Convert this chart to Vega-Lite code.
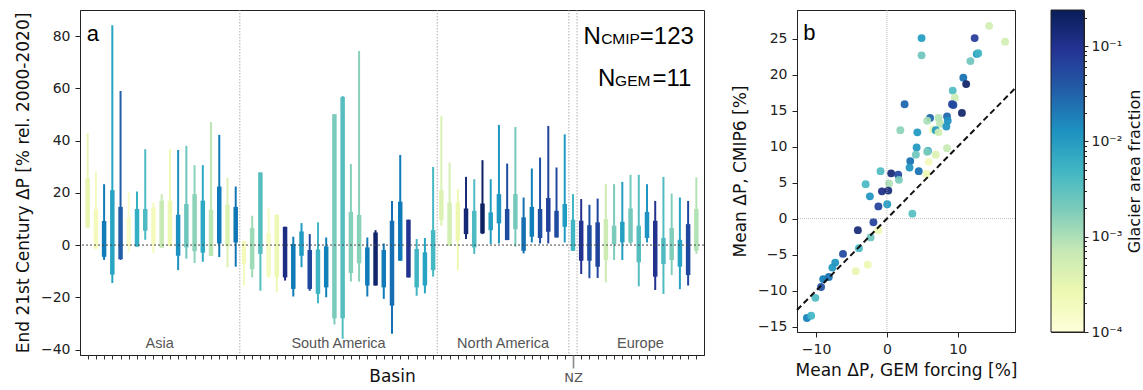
{
  "$schema": "https://vega.github.io/schema/vega-lite/v6.json",
  "padding": {"left": 13, "top": 9, "right": 0, "bottom": 0},
  "background": "white",
  "config": {
    "font": "DejaVu Sans",
    "view": {"stroke": "#222", "strokeWidth": 1},
    "axis": {"labelFontSize": 14, "titleFontSize": 17, "labelColor": "#222", "titleColor": "#111", "titleFontWeight": "normal", "tickColor": "#222", "domainColor": "#222", "grid": false, "tickSize": 5, "labelPadding": 5, "titlePadding": 8, "labelFont": "DejaVu Sans", "titleFont": "DejaVu Sans"}
  },
  "datasets": {
    "basins": [
      {"idx": 0, "lo": 6.5, "q1": 6.7, "q3": 25.6, "hi": 42.8, "frac": 0.0003},
      {"idx": 1, "lo": -1.5, "q1": -1.3, "q3": 13.8, "hi": 28, "frac": 0.0002},
      {"idx": 2, "lo": -5.7, "q1": -4.5, "q3": 9.2, "hi": 23.3, "frac": 0.02},
      {"idx": 3, "lo": -14.5, "q1": -11.3, "q3": 21, "hi": 84.2, "frac": 0.008},
      {"idx": 4, "lo": -5.7, "q1": -5.4, "q3": 14.6, "hi": 59, "frac": 0.035},
      {"idx": 5, "lo": -2.5, "q1": -0.5, "q3": 10.5, "hi": 20.5, "frac": 0.00015},
      {"idx": 6, "lo": -0.6, "q1": -0.6, "q3": 13.8, "hi": 20.5, "frac": 0.006},
      {"idx": 7, "lo": 2, "q1": 5.5, "q3": 13.8, "hi": 36.7, "frac": 0.004},
      {"idx": 8, "lo": -3, "q1": 0, "q3": 14.4, "hi": 16.3, "frac": 0.0002},
      {"idx": 9, "lo": -1, "q1": -1, "q3": 17, "hi": 19.5, "frac": 0.0007},
      {"idx": 10, "lo": -0.5, "q1": -0.5, "q3": 17, "hi": 36.7, "frac": 0.00025},
      {"idx": 11, "lo": -9.6, "q1": -4.1, "q3": 11.6, "hi": 36.4, "frac": 0.013},
      {"idx": 12, "lo": -5.2, "q1": -0.9, "q3": 15.7, "hi": 38, "frac": 0.0025},
      {"idx": 13, "lo": -6.9, "q1": -2.4, "q3": 19.5, "hi": 30.6, "frac": 0.0015},
      {"idx": 14, "lo": -6.4, "q1": -2.9, "q3": 17, "hi": 30.6, "frac": 0.007},
      {"idx": 15, "lo": -4.2, "q1": -4.2, "q3": 13.5, "hi": 47.1, "frac": 0.0008},
      {"idx": 16, "lo": -4.6, "q1": 0.6, "q3": 22.4, "hi": 42.2, "frac": 0.02},
      {"idx": 17, "lo": -8.5, "q1": -0.5, "q3": 15.5, "hi": 25.8, "frac": 0.0004},
      {"idx": 18, "lo": -8.3, "q1": 1, "q3": 14.6, "hi": 22.4, "frac": 0.022},
      {"idx": 19, "lo": -15.5, "q1": -7.3, "q3": 1.6, "hi": 1.6, "frac": 0.0002},
      {"idx": 20, "lo": -12.4, "q1": -9.2, "q3": 6.5, "hi": 11.2, "frac": 0.0012},
      {"idx": 21, "lo": -17.5, "q1": -3.4, "q3": 27.8, "hi": 27.8, "frac": 0.0035},
      {"idx": 22, "lo": -12.5, "q1": -12, "q3": 4.5, "hi": 14, "frac": 0.00018},
      {"idx": 23, "lo": -18, "q1": -12.4, "q3": 11.5, "hi": 11.8, "frac": 0.00025},
      {"idx": 24, "lo": -13.6, "q1": -12.4, "q3": 7, "hi": 7, "frac": 0.12},
      {"idx": 25, "lo": -19.7, "q1": -16.8, "q3": 0.4, "hi": 3.2, "frac": 0.02},
      {"idx": 26, "lo": -8.5, "q1": -4.1, "q3": 5.2, "hi": 8.4, "frac": 0.01},
      {"idx": 27, "lo": -17.5, "q1": -16.8, "q3": -1.9, "hi": 4.2, "frac": 0.06},
      {"idx": 28, "lo": -22.3, "q1": -18.7, "q3": -1.7, "hi": 8.7, "frac": 0.005},
      {"idx": 29, "lo": -20, "q1": -16.2, "q3": -0.5, "hi": 2.9, "frac": 0.018},
      {"idx": 30, "lo": -30.4, "q1": -28, "q3": 50.1, "hi": 50.1, "frac": 0.002},
      {"idx": 31, "lo": -35.9, "q1": -28, "q3": 56.7, "hi": 57.1, "frac": 0.0035},
      {"idx": 32, "lo": -14, "q1": -10.7, "q3": 12.7, "hi": 31, "frac": 0.0017},
      {"idx": 33, "lo": -14, "q1": -7, "q3": 11.5, "hi": 74.3, "frac": 0.0016},
      {"idx": 34, "lo": -19.7, "q1": -15.5, "q3": -0.9, "hi": 2.9, "frac": 0.02},
      {"idx": 35, "lo": -15.5, "q1": -15.5, "q3": 4.8, "hi": 5.7, "frac": 0.17},
      {"idx": 36, "lo": -20.6, "q1": -16.2, "q3": -1.9, "hi": 0.6, "frac": 0.02},
      {"idx": 37, "lo": -34, "q1": -23.2, "q3": 9.3, "hi": 16.9, "frac": 0.025},
      {"idx": 38, "lo": -6, "q1": -6, "q3": 16.6, "hi": 34.5, "frac": 0.02},
      {"idx": 39, "lo": -12.4, "q1": -12.4, "q3": 9.7, "hi": 9.7, "frac": 0.1},
      {"idx": 40, "lo": -19.4, "q1": -16.2, "q3": -1.5, "hi": 2.3, "frac": 0.005},
      {"idx": 41, "lo": -18.5, "q1": -15.5, "q3": -2.8, "hi": 2.7, "frac": 0.008},
      {"idx": 42, "lo": -12.1, "q1": -9.6, "q3": 5.7, "hi": 29.9, "frac": 0.0045},
      {"idx": 43, "lo": 7.4, "q1": 9.6, "q3": 21, "hi": 49.4, "frac": 0.0004},
      {"idx": 44, "lo": -0.3, "q1": -0.3, "q3": 16.3, "hi": 31.6, "frac": 0.0005},
      {"idx": 45, "lo": -9.6, "q1": 1.7, "q3": 16.3, "hi": 21.4, "frac": 0.00025},
      {"idx": 46, "lo": 2.3, "q1": 4.2, "q3": 14, "hi": 26.1, "frac": 0.15},
      {"idx": 47, "lo": -3.4, "q1": -0.9, "q3": 13.1, "hi": 25.2, "frac": 0.004},
      {"idx": 48, "lo": 4.2, "q1": 4.5, "q3": 15.9, "hi": 32.5, "frac": 0.2},
      {"idx": 49, "lo": 0.4, "q1": 5.7, "q3": 12.5, "hi": 25.2, "frac": 0.009},
      {"idx": 50, "lo": 0.6, "q1": 8.3, "q3": 19.5, "hi": 46, "frac": 0.011},
      {"idx": 51, "lo": 1.9, "q1": 1.9, "q3": 13.8, "hi": 31.2, "frac": 0.055},
      {"idx": 52, "lo": -0.6, "q1": 6.1, "q3": 19.5, "hi": 45.2, "frac": 0.0022},
      {"idx": 53, "lo": -3.2, "q1": -2.2, "q3": 10.6, "hi": 18.2, "frac": 0.025},
      {"idx": 54, "lo": 1, "q1": 3.2, "q3": 14.6, "hi": 29.3, "frac": 0.018},
      {"idx": 55, "lo": 0.6, "q1": 2.7, "q3": 13.8, "hi": 33.5, "frac": 0.05},
      {"idx": 56, "lo": 0.6, "q1": 5.1, "q3": 18, "hi": 45.6, "frac": 0.07},
      {"idx": 57, "lo": 2.9, "q1": 2.9, "q3": 13.1, "hi": 29.7, "frac": 0.055},
      {"idx": 58, "lo": 1, "q1": 7, "q3": 15.7, "hi": 42.4, "frac": 0.01},
      {"idx": 59, "lo": -2.2, "q1": -2.2, "q3": 9.7, "hi": 19.5, "frac": 0.005},
      {"idx": 60, "lo": -11.1, "q1": -6, "q3": 9.3, "hi": 17.6, "frac": 0.1},
      {"idx": 61, "lo": -12.7, "q1": -6, "q3": 7.6, "hi": 15.4, "frac": 0.05},
      {"idx": 62, "lo": -12.6, "q1": -8.3, "q3": 8.7, "hi": 17.8, "frac": 0.065},
      {"idx": 63, "lo": -14.3, "q1": -5.7, "q3": 9.9, "hi": 23.3, "frac": 0.0006},
      {"idx": 64, "lo": -5.7, "q1": 0.4, "q3": 7.4, "hi": 23.3, "frac": 0.002},
      {"idx": 65, "lo": -5.7, "q1": 1, "q3": 8.9, "hi": 24.2, "frac": 0.009},
      {"idx": 66, "lo": 0.4, "q1": 1, "q3": 14, "hi": 26.9, "frac": 0.0022},
      {"idx": 67, "lo": -15.8, "q1": -6.6, "q3": 7.4, "hi": 26.9, "frac": 0.0035},
      {"idx": 68, "lo": 1, "q1": 2.7, "q3": 12.7, "hi": 23.3, "frac": 0.012},
      {"idx": 69, "lo": -17.2, "q1": -12.1, "q3": 9.3, "hi": 16.9, "frac": 0.1},
      {"idx": 70, "lo": -18.7, "q1": -7.3, "q3": 2.7, "hi": 26.1, "frac": 0.004},
      {"idx": 71, "lo": -11.5, "q1": -5.7, "q3": 6.5, "hi": 19.7, "frac": 0.0018},
      {"idx": 72, "lo": -16.9, "q1": -8.3, "q3": 2, "hi": 18.2, "frac": 0.008},
      {"idx": 73, "lo": -15.5, "q1": -11.5, "q3": 8, "hi": 16.9, "frac": 0.06},
      {"idx": 74, "lo": -3.4, "q1": -2.2, "q3": 13.8, "hi": 25.9, "frac": 0.0009}
    ],
    "scatter": [
      {"gem": 14.45, "cmip": 26.8, "frac": 0.0005},
      {"gem": 16.7, "cmip": 24.6, "frac": 0.0005},
      {"gem": 12.4, "cmip": 25.1, "frac": 0.08},
      {"gem": 4.9, "cmip": 25.1, "frac": 0.01},
      {"gem": 4.9, "cmip": 22.7, "frac": 0.0025},
      {"gem": 12.7, "cmip": 22.9, "frac": 0.012},
      {"gem": 12.9, "cmip": 23.0, "frac": 0.005},
      {"gem": 11.8, "cmip": 21.9, "frac": 0.0025},
      {"gem": 10.8, "cmip": 19.6, "frac": 0.025},
      {"gem": 11.2, "cmip": 18.7, "frac": 0.2},
      {"gem": 9.3, "cmip": 17.8, "frac": 0.004},
      {"gem": 9.6, "cmip": 16.8, "frac": 0.0006},
      {"gem": 9.2, "cmip": 15.9, "frac": 0.07},
      {"gem": 9.4, "cmip": 15.8, "frac": 0.06},
      {"gem": 10.6, "cmip": 14.7, "frac": 0.18},
      {"gem": 2.5, "cmip": 15.9, "frac": 0.03},
      {"gem": 6.1, "cmip": 14.0, "frac": 0.03},
      {"gem": 7.3, "cmip": 14.0, "frac": 0.0009},
      {"gem": 8.5, "cmip": 14.2, "frac": 0.03},
      {"gem": 8.6, "cmip": 13.6, "frac": 0.013},
      {"gem": 5.7, "cmip": 13.6, "frac": 0.001},
      {"gem": 7.5, "cmip": 13.2, "frac": 0.0008},
      {"gem": 6.5, "cmip": 12.4, "frac": 0.00025},
      {"gem": 6.9, "cmip": 12.3, "frac": 0.01},
      {"gem": 7.3, "cmip": 12.0, "frac": 0.0005},
      {"gem": 8.4, "cmip": 12.8, "frac": 0.012},
      {"gem": 1.9, "cmip": 12.3, "frac": 0.0015},
      {"gem": 4.3, "cmip": 12.0, "frac": 0.011},
      {"gem": 4.2, "cmip": 9.9, "frac": 0.011},
      {"gem": 4.1, "cmip": 8.9, "frac": 0.0025},
      {"gem": 5.8, "cmip": 9.4, "frac": 0.009},
      {"gem": 5.7, "cmip": 9.3, "frac": 0.002},
      {"gem": 6.9, "cmip": 8.9, "frac": 0.0004},
      {"gem": 8.5, "cmip": 9.8, "frac": 0.0007},
      {"gem": 5.9, "cmip": 7.9, "frac": 0.0002},
      {"gem": 3.3, "cmip": 8.0, "frac": 0.025},
      {"gem": 3.2, "cmip": 7.1, "frac": 0.012},
      {"gem": 4.5, "cmip": 6.6, "frac": 0.025},
      {"gem": 5.6, "cmip": 6.2, "frac": 0.00025},
      {"gem": -0.9, "cmip": 6.6, "frac": 0.004},
      {"gem": 0.6, "cmip": 6.3, "frac": 0.15},
      {"gem": 1.6, "cmip": 6.1, "frac": 0.06},
      {"gem": 1.7, "cmip": 5.4, "frac": 0.002},
      {"gem": 0.3, "cmip": 4.9, "frac": 0.001},
      {"gem": -3.0, "cmip": 4.8, "frac": 0.0045},
      {"gem": -0.7, "cmip": 3.8, "frac": 0.12},
      {"gem": 0.2, "cmip": 3.9, "frac": 0.13},
      {"gem": -2.4, "cmip": 3.1, "frac": 0.012},
      {"gem": 0.05, "cmip": 2.0, "frac": 0.01},
      {"gem": -1.2, "cmip": 1.7, "frac": 0.07},
      {"gem": 3.6, "cmip": 0.7, "frac": 0.0035},
      {"gem": -1.9, "cmip": -0.5, "frac": 0.07},
      {"gem": -4.1, "cmip": -1.6, "frac": 0.15},
      {"gem": -1.2, "cmip": -1.6, "frac": 0.00025},
      {"gem": -2.3, "cmip": -2.6, "frac": 0.0025},
      {"gem": -3.95, "cmip": -4.1, "frac": 0.0045},
      {"gem": -6.2, "cmip": -4.9, "frac": 0.06},
      {"gem": -2.7, "cmip": -6.4, "frac": 0.00025},
      {"gem": -4.4, "cmip": -7.3, "frac": 0.0003},
      {"gem": -7.3, "cmip": -6.1, "frac": 0.012},
      {"gem": -7.7, "cmip": -6.8, "frac": 0.011},
      {"gem": -8.2, "cmip": -8.1, "frac": 0.025},
      {"gem": -9.0, "cmip": -8.4, "frac": 0.02},
      {"gem": -9.3, "cmip": -9.5, "frac": 0.05},
      {"gem": -10.1, "cmip": -11.0, "frac": 0.004},
      {"gem": -11.3, "cmip": -13.8, "frac": 0.018},
      {"gem": -10.7, "cmip": -13.5, "frac": 0.005}
    ]
  },
  "spacing": 25,
  "hconcat": [
    {
      "width": 624,
      "height": 345,
      "resolve": {"axis": {"x": "independent"}},
      "layer": [
        {
          "data": {"name": "basins"},
          "mark": {"type": "rule", "strokeWidth": 2},
          "encoding": {
            "x": {"field": "idx", "type": "quantitative", "scale": {"domain": [-0.93, 74.93], "nice": false, "zero": false},
              "axis": {"orient": "bottom", "title": "Basin", "values": [0,1,2,3,4,5,6,7,8,9,10,11,12,13,14,15,16,17,18,19,20,21,22,23,24,25,26,27,28,29,30,31,32,33,34,35,36,37,38,39,40,41,42,43,44,45,46,47,48,49,50,51,52,53,54,55,56,57,58,60,61,62,63,64,65,66,67,68,69,70,71,72,73,74],
                "labels": false, "tickSize": 4, "tickColor": "#333", "titleY": 13, "titleBaseline": "top"}},
            "y": {"field": "lo", "type": "quantitative", "scale": {"domain": [-42.1, 90], "nice": false, "zero": false},
              "axis": {"title": "End 21st Century ΔP [% rel. 2000-2020]", "values": [-40, -20, 0, 20, 40, 60, 80]}},
            "y2": {"field": "hi"},
            "color": {"field": "frac", "type": "quantitative", "legend": null,
              "scale": {"type": "log", "domain": [0.0001, 0.24], "clamp": true, "range": ["#ffffd9", "#edf8b1", "#c7e9b4", "#7fcdbb", "#41b6c4", "#1d91c0", "#225ea8", "#253494", "#081d58"]}}
          }
        },
        {
          "data": {"name": "basins"},
          "mark": {"type": "rule", "strokeWidth": 4.5},
          "encoding": {
            "x": {"field": "idx", "type": "quantitative", "axis": null},
            "y": {"field": "q1", "type": "quantitative"},
            "y2": {"field": "q3"},
            "color": {"field": "frac", "type": "quantitative", "legend": null}
          }
        },
        {
          "data": {"values": [{"idx": 18.5}, {"idx": 42.5}, {"idx": 58.5}, {"idx": 59.5}]},
          "mark": {"type": "rule", "color": "#999", "strokeWidth": 0.8, "strokeDash": [1.5, 1.5]},
          "encoding": {"x": {"field": "idx", "type": "quantitative",
            "axis": {"orient": "bottom", "title": null, "values": [59], "labelExpr": "'NZ'", "tickSize": 13, "tickWidth": 1.6, "tickColor": "#888", "labelPadding": 3, "labelFontSize": 13, "labelColor": "#555", "labelFlush": false, "domain": false, "offset": 0}}}
        },
        {
          "data": {"values": [{}]},
          "mark": {"type": "rule", "color": "#444", "strokeWidth": 1, "strokeDash": [2, 2]},
          "encoding": {"y": {"datum": 0, "type": "quantitative"}}
        },
        {
          "data": {"values": [{"region": "Asia", "idx": 8.75}, {"region": "South America", "idx": 30.5}, {"region": "North America", "idx": 50.5}, {"region": "Europe", "idx": 67.2}]},
          "mark": {"type": "text", "font": "Liberation Sans", "fontSize": 14.5, "color": "#555", "align": "center", "baseline": "alphabetic"},
          "encoding": {
            "x": {"field": "idx", "type": "quantitative", "axis": null},
            "y": {"datum": -39.5},
            "text": {"field": "region"}
          }
        },
        {
          "data": {"values": [{}]},
          "mark": {"type": "text", "text": "a", "font": "Liberation Sans", "fontSize": 22, "color": "#000", "align": "left", "baseline": "alphabetic"},
          "encoding": {"x": {"datum": -0.1, "axis": null}, "y": {"datum": 78}}
        },
        {
          "data": {"values": [{}]},
          "mark": {"type": "text", "text": "=123", "font": "Liberation Sans", "fontSize": 24, "color": "#000", "align": "right", "baseline": "alphabetic"},
          "encoding": {"x": {"datum": 73.7, "axis": null}, "y": {"datum": 76.9}}
        },
        {
          "data": {"values": [{}]},
          "mark": {"type": "text", "text": "CMIP", "font": "Liberation Sans", "fontSize": 15.5, "color": "#000", "align": "right", "baseline": "alphabetic", "dx": -54},
          "encoding": {"x": {"datum": 73.7, "axis": null}, "y": {"datum": 76.9}}
        },
        {
          "data": {"values": [{}]},
          "mark": {"type": "text", "text": "N", "font": "Liberation Sans", "fontSize": 24, "color": "#000", "align": "right", "baseline": "alphabetic", "dx": -93},
          "encoding": {"x": {"datum": 73.7, "axis": null}, "y": {"datum": 76.9}}
        },
        {
          "data": {"values": [{}]},
          "mark": {"type": "text", "text": "=11", "font": "Liberation Sans", "fontSize": 24, "color": "#000", "align": "right", "baseline": "alphabetic"},
          "encoding": {"x": {"datum": 73.4, "axis": null}, "y": {"datum": 60.9}}
        },
        {
          "data": {"values": [{}]},
          "mark": {"type": "text", "text": "GEM", "font": "Liberation Sans", "fontSize": 15.5, "color": "#000", "align": "right", "baseline": "alphabetic", "dx": -41},
          "encoding": {"x": {"datum": 73.4, "axis": null}, "y": {"datum": 60.9}}
        },
        {
          "data": {"values": [{}]},
          "mark": {"type": "text", "text": "N", "font": "Liberation Sans", "fontSize": 24, "color": "#000", "align": "right", "baseline": "alphabetic", "dx": -76},
          "encoding": {"x": {"datum": 73.4, "axis": null}, "y": {"datum": 60.9}}
        }
      ]
    },
    {
      "spacing": 32,
      "hconcat": [
        {
          "width": 218,
          "height": 322,
          "layer": [
            {
              "data": {"name": "scatter"},
              "mark": {"type": "circle", "size": 62, "opacity": 0.92},
              "encoding": {
                "x": {"field": "gem", "type": "quantitative", "scale": {"domain": [-12.7, 18.1], "nice": false, "zero": false},
                  "axis": {"title": "Mean ΔP, GEM forcing [%]", "values": [-10, 0, 10], "titlePadding": 6}},
                "y": {"field": "cmip", "type": "quantitative", "scale": {"domain": [-15.75, 29.0], "nice": false, "zero": false},
                  "axis": {"title": "Mean ΔP, CMIP6 [%]", "values": [-15, -10, -5, 0, 5, 10, 15, 20, 25]}},
                "color": {"field": "frac", "type": "quantitative", "legend": null,
                  "scale": {"type": "log", "domain": [0.0001, 0.24], "clamp": true, "range": ["#ffffd9", "#edf8b1", "#c7e9b4", "#7fcdbb", "#41b6c4", "#1d91c0", "#225ea8", "#253494", "#081d58"]}}
              }
            },
            {
              "data": {"values": [{}]},
              "mark": {"type": "rule", "color": "#aaa", "strokeWidth": 0.8, "strokeDash": [1, 1]},
              "encoding": {"x": {"datum": 0, "type": "quantitative"}}
            },
            {
              "data": {"values": [{}]},
              "mark": {"type": "rule", "color": "#aaa", "strokeWidth": 0.8, "strokeDash": [1, 1]},
              "encoding": {"y": {"datum": 0, "type": "quantitative"}}
            },
            {
              "data": {"values": [{}]},
              "mark": {"type": "rule", "color": "#111", "strokeWidth": 2, "strokeDash": [6, 3.5]},
              "encoding": {"x": {"datum": -12.7}, "y": {"datum": -12.7}, "x2": {"datum": 18.1}, "y2": {"datum": 18.1}}
            },
            {
              "data": {"values": [{}]},
              "mark": {"type": "text", "text": "b", "font": "Liberation Sans", "fontSize": 22, "color": "#000", "align": "left", "baseline": "alphabetic"},
              "encoding": {"x": {"datum": -11.8}, "y": {"datum": 24.9}}
            }
          ]
        },
        {
          "width": 33,
          "height": 322,
          "data": {"values": [{"lo": 0.0001, "hi": 0.24}]},
          "mark": {"type": "rect", "stroke": "#222", "strokeWidth": 1,
            "fill": {"gradient": "linear", "x1": 0, "y1": 1, "x2": 0, "y2": 0,
              "stops": [
                {"offset": 0, "color": "#ffffd9"},
                {"offset": 0.125, "color": "#edf8b1"},
                {"offset": 0.25, "color": "#c7e9b4"},
                {"offset": 0.375, "color": "#7fcdbb"},
                {"offset": 0.5, "color": "#41b6c4"},
                {"offset": 0.625, "color": "#1d91c0"},
                {"offset": 0.75, "color": "#225ea8"},
                {"offset": 0.875, "color": "#253494"},
                {"offset": 1, "color": "#081d58"}
              ]}},
          "encoding": {
            "x": {"datum": 0, "type": "quantitative", "scale": {"domain": [0, 1], "nice": false, "zero": false}, "axis": null},
            "x2": {"datum": 1},
            "y": {"field": "lo", "type": "quantitative", "scale": {"type": "log", "domain": [0.0001, 0.24], "nice": false},
              "axis": {"orient": "right", "title": "Glacier area fraction", "titleAngle": 270, "titleBaseline": "top", "titlePadding": 5, "titleFontSize": 16,
                "values": [0.0001, 0.0002, 0.0003, 0.0004, 0.0005, 0.0006, 0.0007, 0.0008, 0.0009, 0.001, 0.002, 0.003, 0.004, 0.005, 0.006, 0.007, 0.008, 0.009, 0.01, 0.02, 0.03, 0.04, 0.05, 0.06, 0.07, 0.08, 0.09, 0.1, 0.2],
                "labelExpr": "abs(log(datum.value)/LN10 + 1) < 0.01 ? '10⁻¹' : abs(log(datum.value)/LN10 + 2) < 0.01 ? '10⁻²' : abs(log(datum.value)/LN10 + 3) < 0.01 ? '10⁻³' : abs(log(datum.value)/LN10 + 4) < 0.01 ? '10⁻⁴' : ''",
                "labelOverlap": false, "labelBound": false, "labelPadding": 3, "domain": false,
                "tickSize": {"condition": {"test": "abs(log(datum.value)/LN10 - round(log(datum.value)/LN10)) < 0.01", "value": 4}, "value": 2.5}}},
            "y2": {"field": "hi"}
          }
        }
      ]
    }
  ]
}
